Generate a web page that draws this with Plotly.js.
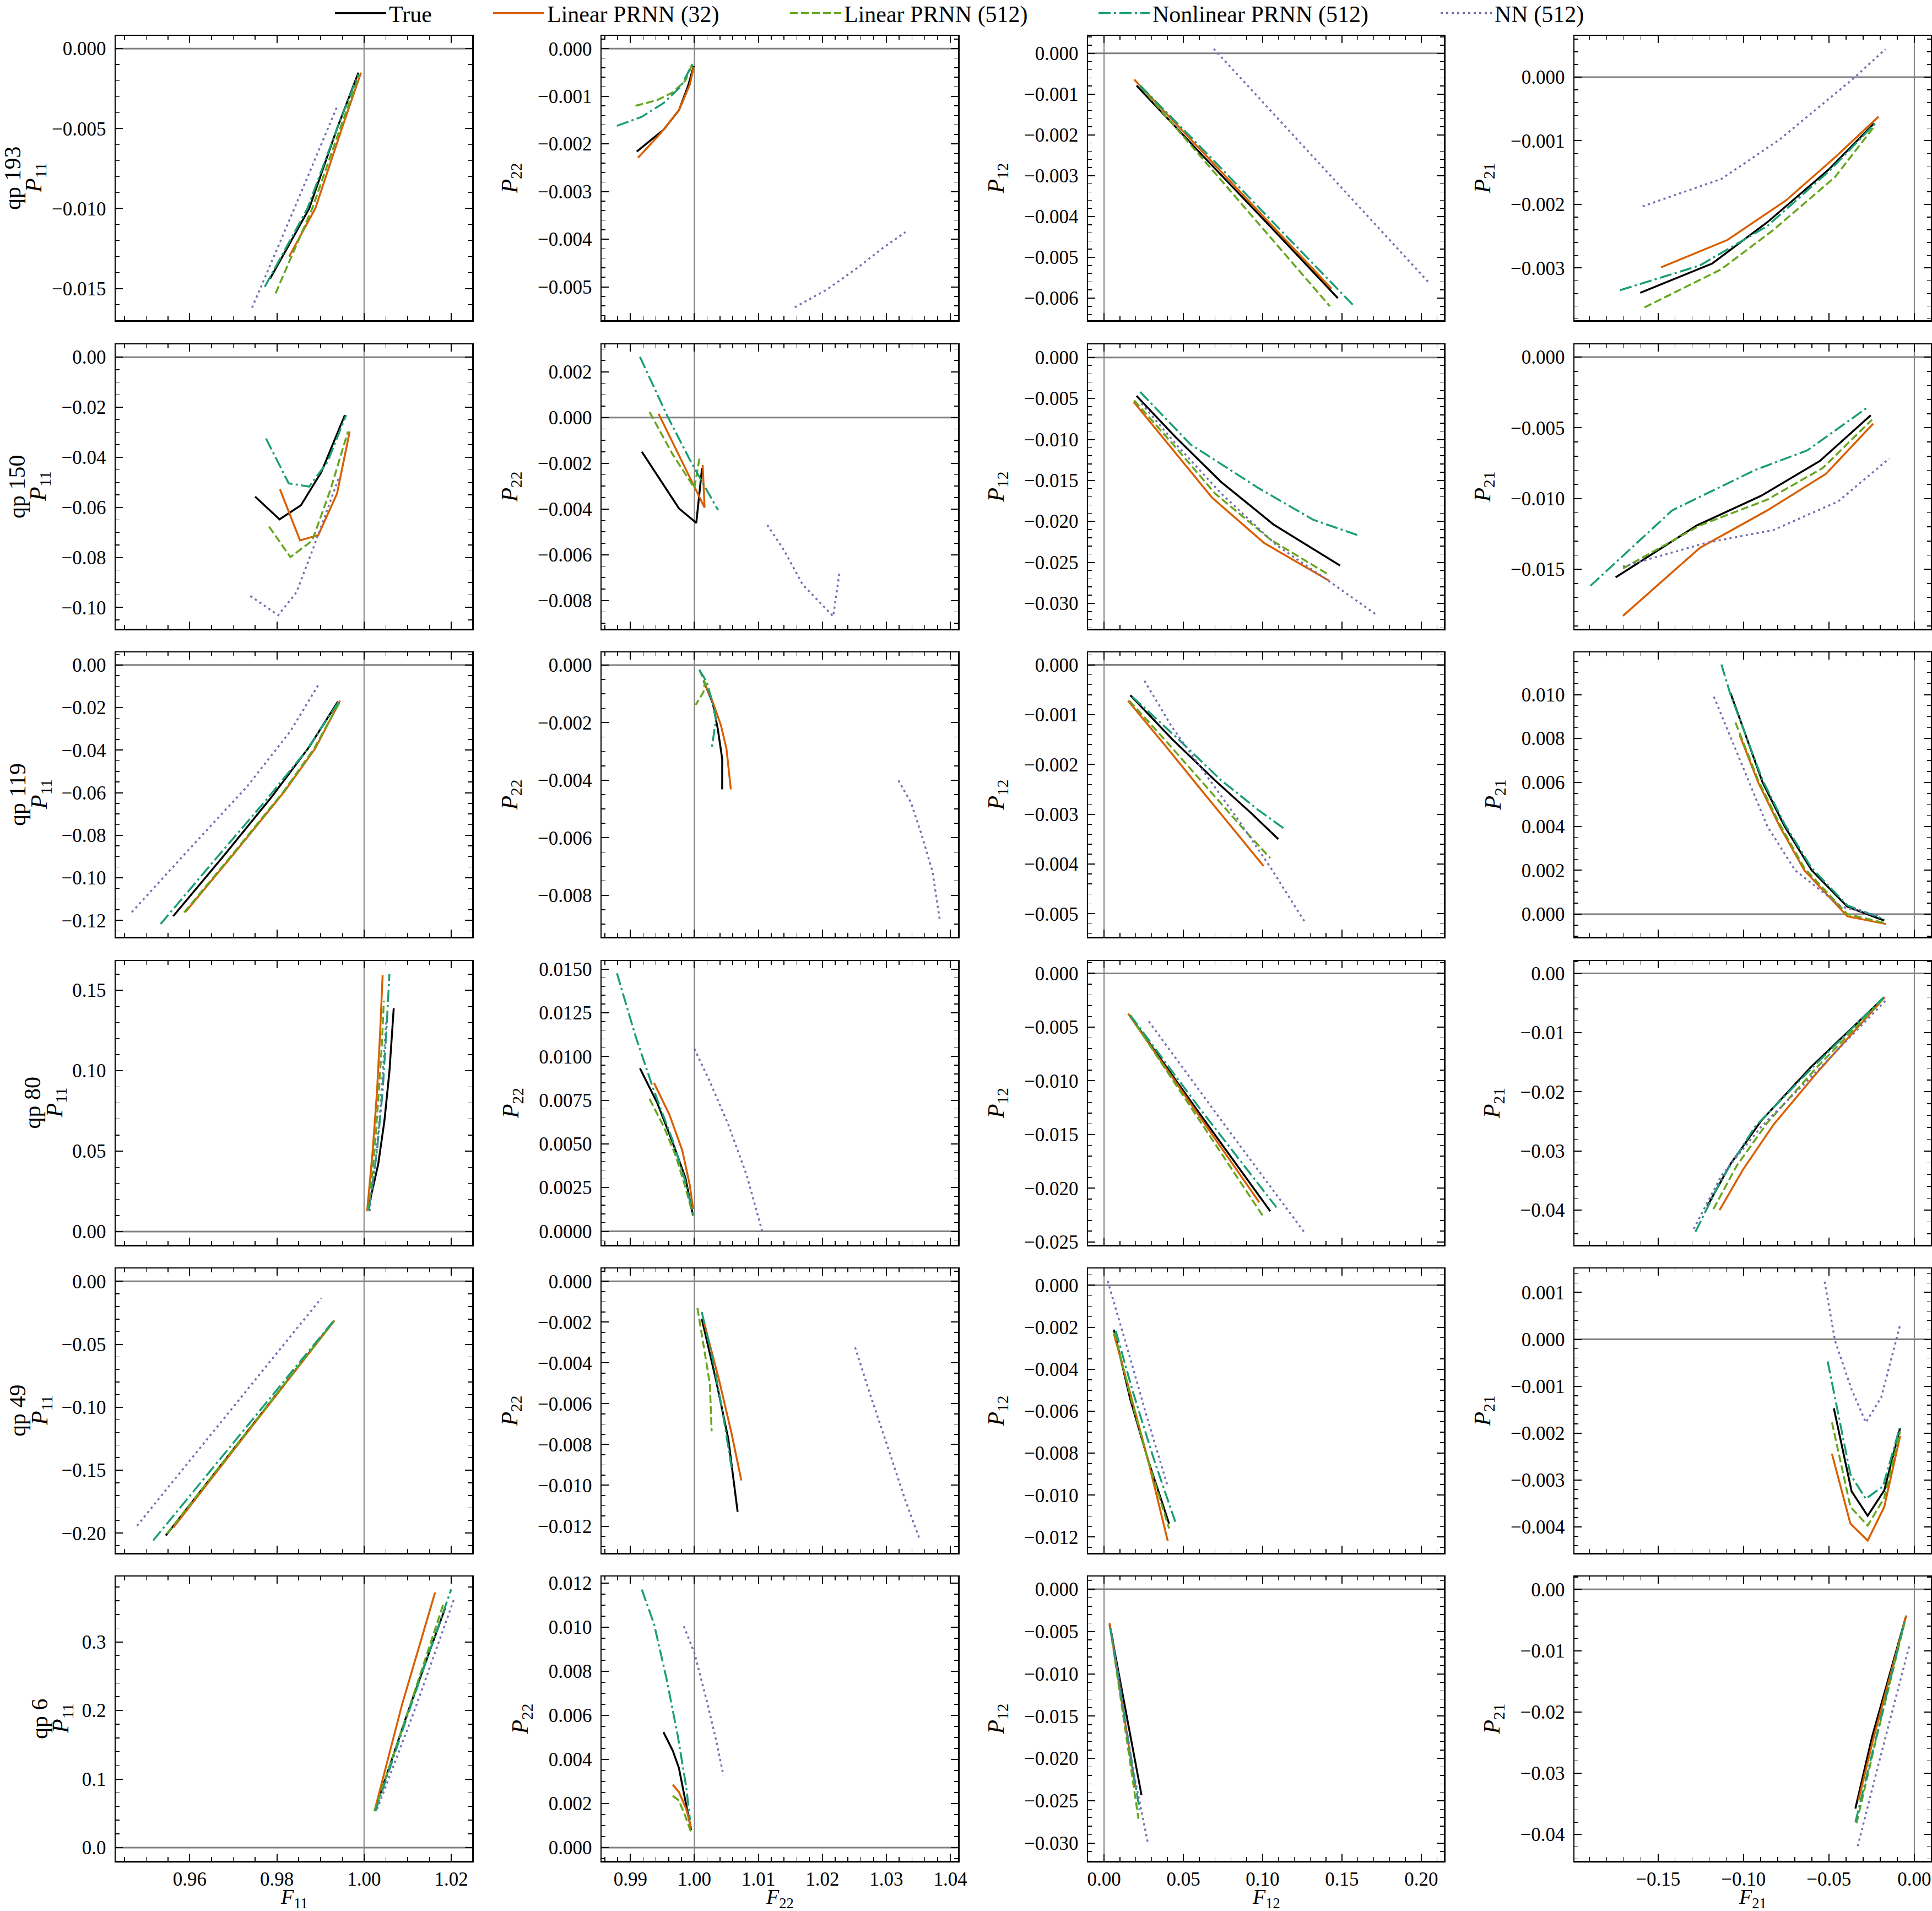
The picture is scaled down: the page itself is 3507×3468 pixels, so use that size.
<!DOCTYPE html>
<html><head><meta charset="utf-8">
<script src="https://cdn.plot.ly/plotly-3.0.1.min.js"></script>
<style>html,body{margin:0;padding:0;background:#fff}#chart{width:3507px;height:3468px}</style>
</head><body><div id="chart"></div>
<script>
// ---------- categories / labels ----------
const seriesNames = ['True', 'Linear PRNN (32)', 'Linear PRNN (512)', 'Nonlinear PRNN (512)', 'NN (512)'];
const qpLabels = ['qp 193', 'qp 150', 'qp 119', 'qp 80', 'qp 49', 'qp 6'];
const xTitles = ['<i>F</i><sub>11</sub>', '<i>F</i><sub>22</sub>', '<i>F</i><sub>12</sub>', '<i>F</i><sub>21</sub>'];
const yTitles = ['<i>P</i><sub>11</sub>', '<i>P</i><sub>22</sub>', '<i>P</i><sub>12</sub>', '<i>P</i><sub>21</sub>'];

// ---------- data (order: True, Lin32, Lin512, Nonlin512, NN) ----------
// qp 193
const qp193_F11 = [[0.9784,0.9874,0.9938,0.9987],[0.9828,0.9888,0.9949,0.9993],[0.9797,0.9881,0.9945,0.9990],[0.9772,0.9870,0.9938,0.9987],[0.9743,0.9840,0.9940]];
const qp193_P11 = [[-0.0144,-0.0100,-0.0050,-0.0015],[-0.0130,-0.0100,-0.0050,-0.0015],[-0.0153,-0.0100,-0.0050,-0.0016],[-0.0149,-0.0100,-0.0050,-0.0016],[-0.0162,-0.0100,-0.0035]];
const qp193_F22 = [[0.9910,0.9952,0.9976,0.9990,0.9999],[0.9912,0.9947,0.9976,0.9993,0.9999],[0.9908,0.9942,0.9966,0.9986,0.9998],[0.9879,0.9918,0.9952,0.9979,0.9997],[1.0157,1.0208,1.0256,1.0295,1.0330]];
const qp193_P22 = [[-0.00216,-0.00170,-0.00129,-0.00079,-0.00036],[-0.00229,-0.00178,-0.00129,-0.00075,-0.00038],[-0.00120,-0.00108,-0.00092,-0.00067,-0.00028],[-0.00162,-0.00143,-0.00114,-0.00079,-0.00032],[-0.00543,-0.00505,-0.00459,-0.00418,-0.00385]];
const qp193_F12 = [[0.0205,0.0620,0.1050,0.1474],[0.0190,0.0600,0.1020,0.1435],[0.0228,0.0620,0.1020,0.1424],[0.0228,0.0660,0.1110,0.1578],[0.0692,0.1150,0.1600,0.2046]];
const qp193_P12 = [[-0.00079,-0.00250,-0.00425,-0.00600],[-0.00064,-0.00233,-0.00406,-0.00577],[-0.00081,-0.00258,-0.00438,-0.00620],[-0.00079,-0.00250,-0.00432,-0.00620],[0.00011,-0.00182,-0.00372,-0.00561]];
const qp193_F21 = [[-0.1604,-0.1183,-0.0860,-0.0500,-0.0237],[-0.1482,-0.1094,-0.0752,-0.0464,-0.0209],[-0.1579,-0.1130,-0.0824,-0.0464,-0.0230],[-0.1723,-0.1255,-0.0860,-0.0500,-0.0230],[-0.1590,-0.1129,-0.0788,-0.0356,-0.0169]];
const qp193_P21 = [[-0.00339,-0.00293,-0.00228,-0.00145,-0.00073],[-0.00299,-0.00256,-0.00194,-0.00126,-0.00062],[-0.00362,-0.00302,-0.00240,-0.00157,-0.00076],[-0.00335,-0.00296,-0.00234,-0.00148,-0.00073],[-0.00203,-0.00160,-0.00098,-0.00002,0.00044]];
// qp 150
const qp150_F11 = [[0.9750,0.9806,0.9855,0.9902,0.9956],[0.9807,0.9853,0.9895,0.9938,0.9967],[0.9782,0.9831,0.9881,0.9923,0.9963],[0.9775,0.9827,0.9874,0.9916,0.9959],[0.9739,0.9803,0.9845,0.9888,0.9942]];
const qp150_P11 = [[-0.0557,-0.0648,-0.0592,-0.0459,-0.0231],[-0.0528,-0.0732,-0.0711,-0.0545,-0.0297],[-0.0677,-0.0799,-0.0733,-0.0529,-0.0297],[-0.0325,-0.0504,-0.0517,-0.0419,-0.0231],[-0.0954,-0.1031,-0.0939,-0.0742,-0.0482]];
const qp150_F22 = [[0.9918,0.9976,1.0003,1.0012],[0.9944,1.0016,1.0013],[0.9930,0.9966,1.0000,1.0008],[0.9915,0.9957,0.9995,1.0016,1.0037],[1.0114,1.0140,1.0169,1.0217,1.0227]];
const qp150_P22 = [[-0.00150,-0.00398,-0.00461,-0.00221],[0.00017,-0.00394,-0.00208],[0.00024,-0.00161,-0.00308,-0.00178],[0.00265,0.00011,-0.00196,-0.00300,-0.00405],[-0.00470,-0.00580,-0.00730,-0.00870,-0.00673]];
const qp150_F12 = [[0.0205,0.0449,0.0739,0.1068,0.1489],[0.0186,0.0429,0.0681,0.1010,0.1416],[0.0190,0.0449,0.0700,0.1048,0.1416],[0.0228,0.0545,0.0971,0.1319,0.1602],[0.0236,0.0468,0.0739,0.1087,0.1397,0.1725]];
const qp150_P12 = [[-0.00468,-0.00968,-0.0152,-0.02037,-0.0254],[-0.0054,-0.0111,-0.0171,-0.02265,-0.0272],[-0.00523,-0.0109,-0.0166,-0.0222,-0.0265],[-0.0042,-0.0106,-0.0159,-0.0198,-0.0217],[-0.0056,-0.0109,-0.0166,-0.0229,-0.0270,-0.0315]];
const qp150_F21 = [[-0.1748,-0.1273,-0.0896,-0.0554,-0.0255],[-0.1705,-0.1255,-0.0860,-0.0518,-0.0241],[-0.1705,-0.1255,-0.0860,-0.0536,-0.0248],[-0.1896,-0.1417,-0.0932,-0.0626,-0.0273],[-0.1705,-0.1219,-0.0824,-0.0446,-0.0147]];
const qp150_P21 = [[-0.01557,-0.0119,-0.0098,-0.00735,-0.00411],[-0.01829,-0.01348,-0.01083,-0.00826,-0.00471],[-0.01494,-0.0119,-0.01007,-0.00784,-0.00443],[-0.01617,-0.01083,-0.00798,-0.00659,-0.00355],[-0.0148,-0.01313,-0.01222,-0.0102,-0.00717]];
// qp 119
const qp119_F11 = [[0.9562,0.9675,0.9789,0.9874,0.9940],[0.9590,0.9704,0.9817,0.9888,0.9945],[0.9587,0.9700,0.9814,0.9885,0.9945],[0.9533,0.9647,0.9775,0.9867,0.9942],[0.9467,0.9590,0.9732,0.9831,0.9895]];
const qp119_P11 = [[-0.1180,-0.0904,-0.0617,-0.0385,-0.0172],[-0.1161,-0.0880,-0.0595,-0.0392,-0.0168],[-0.1163,-0.0885,-0.0598,-0.0394,-0.0172],[-0.1217,-0.0941,-0.0635,-0.0404,-0.0172],[-0.1161,-0.0885,-0.0570,-0.0311,-0.0094]];
const qp119_F22 = [[1.00145,1.0029,1.00367,1.00435,1.00435],[1.00145,1.0029,1.00415,1.00502,1.0057],[1.00077,1.00164,1.0014,1.0002],[1.00077,1.00193,1.0029,1.00338,1.0027],[1.03188,1.03382,1.03546,1.0372,1.03836]];
const qp119_P22 = [[-0.00055,-0.00134,-0.00223,-0.00326,-0.00432],[-0.00055,-0.00130,-0.00209,-0.00291,-0.00432],[-0.00016,-0.00060,-0.00095,-0.00138],[-0.00016,-0.00059,-0.00134,-0.00189,-0.00291],[-0.00401,-0.00476,-0.00586,-0.00716,-0.00887]];
const qp119_F12 = [[0.0166,0.0429,0.0700,0.0932,0.1099],[0.0151,0.0391,0.0623,0.0816,0.1006],[0.0159,0.0391,0.0662,0.0894,0.1048],[0.0178,0.0468,0.0739,0.0971,0.1145],[0.0255,0.0429,0.0623,0.0855,0.1048,0.1273]];
const qp119_P12 = [[-0.00061,-0.00149,-0.00232,-0.00299,-0.0035],[-0.00072,-0.00164,-0.00255,-0.0033,-0.00404],[-0.00072,-0.00153,-0.00251,-0.00335,-0.00388],[-0.00064,-0.00149,-0.00232,-0.00291,-0.00331],[-0.00032,-0.00125,-0.00212,-0.00315,-0.00406,-0.0052]];
const qp119_F21 = [[-0.1076,-0.0888,-0.0759,-0.0601,-0.0392,-0.0176],[-0.1022,-0.0914,-0.0788,-0.0644,-0.0392,-0.0165],[-0.1047,-0.0914,-0.0788,-0.0644,-0.0392,-0.0165],[-0.1129,-0.1076,-0.0888,-0.0759,-0.0601,-0.0392,-0.0176],[-0.1173,-0.0968,-0.0860,-0.0698,-0.0428,-0.0212]];
const qp119_P21 = [[0.01008,0.0060,0.0040,0.0020,0.00034,-0.00029],[0.00815,0.0060,0.0040,0.0020,-0.0001,-0.00045],[0.00873,0.0061,0.0041,0.0021,0.0000,-0.00042],[0.01137,0.0100,0.0061,0.0041,0.0021,0.0004,-0.00024],[0.0099,0.0060,0.0040,0.0020,0.00034,-0.00006]];
// qp 80
const qp80_F11 = [[1.00085,1.00326,1.00468,1.00582,1.00681],[1.00071,1.00199,1.00298,1.00369,1.00426],[1.00099,1.00241,1.00340,1.00411,1.00454],[1.00113,1.00298,1.00426,1.00511,1.00582],[1.00128,1.0027,1.00369,1.0044,1.00511]];
const qp80_P11 = [[0.0130,0.0421,0.0690,0.0995,0.1389],[0.0127,0.0506,0.0873,0.1240,0.1594],[0.0127,0.0506,0.0873,0.1178,0.1435],[0.0133,0.0506,0.0873,0.1240,0.1600],[0.0127,0.0445,0.0751,0.1056,0.1313]];
const qp80_F22 = [[0.9915,0.9942,0.9966,0.9986,0.9997],[0.9937,0.9961,0.9981,0.9993,0.9998],[0.9930,0.9952,0.9971,0.9987,0.9998],[0.9879,0.9908,0.9937,0.9966,0.9986,0.9998],[1.0000,1.0024,1.0053,1.0082,1.0106]];
const qp80_P22 = [[0.00932,0.00734,0.00509,0.00307,0.00105],[0.00849,0.00667,0.00464,0.00262,0.00127],[0.00757,0.0060,0.00431,0.0024,0.00088],[0.01476,0.01117,0.00802,0.00521,0.00285,0.00093],[0.01044,0.00858,0.00611,0.00318,0.0000]];
const qp80_F12 = [[0.0159,0.0600,0.1048],[0.0151,0.0565,0.0979],[0.0166,0.0590,0.1010],[0.0166,0.0620,0.1087],[0.0282,0.0770,0.1261]];
const qp80_P12 = [[-0.00386,-0.0130,-0.02214],[-0.00374,-0.0125,-0.02132],[-0.00397,-0.0134,-0.02278],[-0.00390,-0.0129,-0.02178],[-0.00447,-0.0143,-0.02407]];
const qp80_F21 = [[-0.1212,-0.1076,-0.0896,-0.0608,-0.0176],[-0.1140,-0.1004,-0.0824,-0.0554,-0.0173],[-0.1176,-0.1040,-0.0860,-0.0572,-0.0176],[-0.1281,-0.1130,-0.0932,-0.0608,-0.0183],[-0.1291,-0.1130,-0.0896,-0.0572,-0.0169]];
const qp80_P21 = [[-0.03934,-0.0322,-0.02488,-0.01591,-0.00402],[-0.0400,-0.0332,-0.02555,-0.01624,-0.00402],[-0.03983,-0.03252,-0.02522,-0.01591,-0.00412],[-0.04365,-0.03485,-0.02588,-0.01625,-0.00412],[-0.04316,-0.03419,-0.02588,-0.01658,-0.00462]];
// qp 49
const qp49_F11 = [[0.9545,0.9738,0.9931],[0.9562,0.9747,0.9932],[0.9548,0.9740,0.9931],[0.9516,0.9722,0.9928],[0.9479,0.9691,0.9902]];
const qp49_P11 = [[-0.2019,-0.1167,-0.0314],[-0.1956,-0.1134,-0.0311],[-0.2003,-0.1158,-0.0314],[-0.2058,-0.1190,-0.0322],[-0.1941,-0.1038,-0.0134]];
const qp49_F22 = [[1.00116,1.00338,1.00531,1.00676],[1.00145,1.00386,1.0058,1.00734],[1.00048,1.00145,1.00242,1.0027],[1.00116,1.0029,1.00435,1.00589],[1.02512,1.02754,1.03043,1.03285,1.03527]];
const qp49_P22 = [[-0.00184,-0.00484,-0.00773,-0.0113],[-0.00194,-0.00484,-0.00744,-0.00976],[-0.00131,-0.0031,-0.00503,-0.00735],[-0.00151,-0.00387,-0.00628,-0.00928],[-0.00324,-0.00561,-0.00832,-0.01063,-0.0127]];
const qp49_F12 = [[0.0062,0.0166,0.0275,0.0410],[0.0062,0.0159,0.0275,0.0402],[0.0066,0.0166,0.0280,0.0410],[0.0074,0.0178,0.0313,0.0449],[0.0023,0.0139,0.0275,0.0398]];
const qp49_P12 = [[-0.00212,-0.00545,-0.00826,-0.01136],[-0.00231,-0.00498,-0.00826,-0.01219],[-0.00226,-0.00530,-0.00840,-0.01159],[-0.00217,-0.00498,-0.00826,-0.01127],[0.0002,-0.0028,-0.0064,-0.0095]];
const qp49_F21 = [[-0.0471,-0.0367,-0.0273,-0.0176,-0.0083],[-0.0482,-0.0374,-0.0273,-0.0176,-0.0083],[-0.0482,-0.0374,-0.0273,-0.0176,-0.0083],[-0.0507,-0.0374,-0.0284,-0.0183,-0.0086],[-0.0525,-0.0464,-0.0367,-0.0284,-0.0194,-0.0083]];
const qp49_P21 = [[-0.00147,-0.00324,-0.00376,-0.00322,-0.00189],[-0.00244,-0.00393,-0.00429,-0.00357,-0.00206],[-0.00177,-0.00357,-0.00397,-0.00338,-0.00196],[-0.00047,-0.00288,-0.0034,-0.00313,-0.00189],[0.00123,-0.00003,-0.00107,-0.00177,-0.00124,0.00031]];
// qp 6
const qp6_F11 = [[1.0024,1.0101,1.0186],[1.0024,1.0087,1.0163],[1.0024,1.0101,1.0183],[1.0026,1.0108,1.0200],[1.0030,1.0115,1.0207]];
const qp6_P11 = [[0.0535,0.1986,0.3491],[0.0535,0.2082,0.3719],[0.0535,0.1986,0.3570],[0.0529,0.2082,0.3766],[0.0561,0.1986,0.3633]];
const qp6_F22 = [[0.99517,0.99662,0.99758,0.99855,0.99932,0.9995],[0.99662,0.99758,0.99874,0.99952],[0.99662,0.99758,0.99855,0.99952],[0.99179,0.99372,0.99565,0.99739,0.99874,0.99932],[0.99836,1.0000,1.00193,1.00338,1.00454]];
const qp6_P22 = [[0.00524,0.0044,0.00362,0.00224,0.0011,0.0008],[0.00285,0.00253,0.00174,0.00086],[0.00235,0.00214,0.00145,0.00066],[0.01171,0.01012,0.00766,0.0051,0.00273,0.00125],[0.01004,0.00884,0.00667,0.0049,0.00327]];
const qp6_F12 = [[0.0035,0.0236],[0.0035,0.0197],[0.0039,0.0217],[0.0039,0.0224],[0.0050,0.0178,0.0279]];
const qp6_P12 = [[-0.00416,-0.02432],[-0.00400,-0.02342],[-0.00455,-0.02714],[-0.00455,-0.02611],[-0.00519,-0.02085,-0.03022]];
const qp6_F21 = [[-0.0345,-0.0248,-0.0050],[-0.0327,-0.0241,-0.0047],[-0.0338,-0.0230,-0.0054],[-0.0345,-0.0230,-0.0054],[-0.0331,-0.0212,-0.0025]];
const qp6_P21 = [[-0.03578,-0.02416,-0.0045],[-0.03444,-0.02452,-0.00425],[-0.03816,-0.02522,-0.00506],[-0.0380,-0.02487,-0.00488],[-0.04188,-0.02877,-0.00875]];

// ---------- layout constants ----------
const panels = [
  [[qp193_F11,qp193_P11],[qp193_F22,qp193_P22],[qp193_F12,qp193_P12],[qp193_F21,qp193_P21]],
  [[qp150_F11,qp150_P11],[qp150_F22,qp150_P22],[qp150_F12,qp150_P12],[qp150_F21,qp150_P21]],
  [[qp119_F11,qp119_P11],[qp119_F22,qp119_P22],[qp119_F12,qp119_P12],[qp119_F21,qp119_P21]],
  [[qp80_F11,qp80_P11],[qp80_F22,qp80_P22],[qp80_F12,qp80_P12],[qp80_F21,qp80_P21]],
  [[qp49_F11,qp49_P11],[qp49_F22,qp49_P22],[qp49_F12,qp49_P12],[qp49_F21,qp49_P21]],
  [[qp6_F11,qp6_P11],[qp6_F22,qp6_P22],[qp6_F12,qp6_P12],[qp6_F21,qp6_P21]]
];
const colors = ['#000000', '#d95f02', '#66a61e', '#1b9e77', '#7570b3'];
const dashes = ['solid', 'solid', '14px,6px', '22px,6px,4px,6px', '4px,6px'];
const W = 3507, H = 3468;
const colPx = [[210, 857], [1092, 1739], [1975, 2621], [2858, 3505]];
const rowPx = [[65, 581], [625, 1141], [1184, 1700], [1744, 2259], [2302, 2818], [2861, 3377]];
const legendPx = [603, 890, 1429, 1989, 2610];
const qpLabelPx = [23, 31, 32, 58, 32, 72];    // x centre of "qp" line, col 1
const p11LabelPx = [64, 72, 74, 101, 75, 113]; // x centre of P11 line, col 1
const xRanges = [[0.9430, 1.0248], [0.9855, 1.0412], [-0.0101, 0.2143], [-0.1989, 0.0097]];
const xDtick = [0.02, 0.01, 0.05, 0.05];
const xMinor = [0.005, 0.002, 0.01, 0.01];
const vLine = [1, 1, 0, 0];
const yRanges = [
  [[-0.01698, 0.0008], [-0.0057, 0.00027], [-0.00654, 0.00043], [-0.00382, 0.00065]],
  [[-0.1085, 0.0051], [-0.00924, 0.0032], [-0.0331, 0.0016], [-0.0192, 0.0009]],
  [[-0.1277, 0.0059], [-0.00944, 0.00044], [-0.00546, 0.00025], [-0.00103, 0.01192]],
  [[-0.0082, 0.1682], [-0.00077, 0.01546], [-0.02527, 0.00115], [-0.04585, 0.0021]],
  [[-0.2156, 0.0102], [-0.01331, 0.00063], [-0.01275, 0.0008], [-0.00455, 0.00151]],
  [[-0.0193, 0.3953], [-0.0006, 0.0123], [-0.0321, 0.0015], [-0.0443, 0.0021]]
];
const yDtick = [
  [0.005, 0.001, 0.001, 0.001],
  [0.02, 0.002, 0.005, 0.005],
  [0.02, 0.002, 0.001, 0.002],
  [0.05, 0.0025, 0.005, 0.01],
  [0.05, 0.002, 0.002, 0.001],
  [0.1, 0.002, 0.005, 0.01]
];
const yMinor = [
  [0.001, 0.0002, 0.0002, 0.0002],
  [0.005, 0.0005, 0.001, 0.001],
  [0.005, 0.0005, 0.0002, 0.0005],
  [0.01, 0.0005, 0.001, 0.002],
  [0.01, 0.0005, 0.0005, 0.0002],
  [0.02, 0.0005, 0.001, 0.002]
];
const yFmt = [
  ['.3f', '.3f', '.3f', '.3f'],
  ['.2f', '.3f', '.3f', '.3f'],
  ['.2f', '.3f', '.3f', '.3f'],
  ['.2f', '.4f', '.3f', '.2f'],
  ['.2f', '.3f', '.3f', '.3f'],
  ['.1f', '.3f', '.3f', '.2f']
];

const FONT = '"Liberation Serif", "DejaVu Serif", serif';
const traces = [];
const layout = {
  width: W, height: H,
  margin: {l: 0, r: 0, t: 0, b: 0, autoexpand: false},
  paper_bgcolor: '#ffffff', plot_bgcolor: '#ffffff',
  font: {family: FONT, size: 35, color: '#000'},
  showlegend: true,
  shapes: [], annotations: []
};
const legendIds = ['legend', 'legend2', 'legend3', 'legend4', 'legend5'];
legendIds.forEach((id, s) => {
  layout[id] = {orientation: 'h', x: legendPx[s] / W, y: 1 - 24 / H, xanchor: 'left', yanchor: 'middle',
                font: {family: FONT, size: 42, color: '#000'}, itemwidth: 93,
                bgcolor: 'rgba(0,0,0,0)', borderwidth: 0};
});

for (let r = 0; r < 6; r++) {
  for (let c = 0; c < 4; c++) {
    const idx = r * 4 + c + 1;
    const sfx = idx === 1 ? '' : String(idx);
    const xid = 'x' + sfx, yid = 'y' + sfx;
    const [fx, py] = panels[r][c];
    for (let s = 0; s < 5; s++) {
      traces.push({
        type: 'scatter', mode: 'lines', x: fx[s], y: py[s],
        xaxis: xid, yaxis: yid, name: seriesNames[s], legend: legendIds[s],
        showlegend: idx === 1, hoverinfo: 'skip',
        line: {color: colors[s], width: 3.5, dash: dashes[s]}
      });
    }
    const common = {
      ticks: 'inside', ticklen: 13, tickwidth: 2, tickcolor: '#000',
      mirror: 'allticks', showline: true, linecolor: '#000', linewidth: 2.5,
      showgrid: false, zeroline: false, tick0: 0,
      tickfont: {family: FONT, size: 35, color: '#000'}
    };
    layout['xaxis' + sfx] = Object.assign({}, common, {
      domain: [colPx[c][0] / W, colPx[c][1] / W],
      anchor: yid, range: xRanges[c], dtick: xDtick[c], tickformat: '.2f',
      showticklabels: r === 5, ticklabelstandoff: 0,
      minor: {ticks: 'inside', ticklen: 7, tickwidth: 1.5, tickcolor: '#000', dtick: xMinor[c], tick0: 0, showgrid: false}
    });
    const ya = Object.assign({}, common, {
      domain: [1 - rowPx[r][1] / H, 1 - rowPx[r][0] / H],
      anchor: xid, range: yRanges[r][c], dtick: yDtick[r][c], tickformat: yFmt[r][c],
      ticklabelstandoff: 8,
      minor: {ticks: 'inside', ticklen: 7, tickwidth: 1.5, tickcolor: '#000', dtick: yMinor[r][c], tick0: 0, showgrid: false}
    });
    if (c > 0) ya.title = {text: yTitles[c], font: {family: FONT, size: 42}, standoff: 24};
    layout['yaxis' + sfx] = ya;
    const yMid = 1 - (rowPx[r][0] + rowPx[r][1]) / 2 / H;
    if (c === 0) {
      layout.annotations.push({
        text: qpLabels[r], xref: 'paper', yref: 'paper', x: qpLabelPx[r] / W, y: yMid,
        xanchor: 'center', yanchor: 'middle', textangle: -90, showarrow: false,
        font: {family: FONT, size: 42, color: '#000'}
      });
      layout.annotations.push({
        text: yTitles[0], xref: 'paper', yref: 'paper', x: p11LabelPx[r] / W, y: yMid,
        xanchor: 'center', yanchor: 'middle', textangle: -90, showarrow: false,
        font: {family: FONT, size: 42, color: '#000'}
      });
    }
    if (r === 5) {
      layout.annotations.push({
        text: xTitles[c], xref: 'paper', yref: 'paper', x: (colPx[c][0] + colPx[c][1]) / 2 / W, y: 1 - 3445 / H,
        xanchor: 'center', yanchor: 'middle', showarrow: false,
        font: {family: FONT, size: 38, color: '#000'}
      });
    }
    layout.shapes.push({type: 'line', layer: 'below', xref: xid + ' domain', x0: 0, x1: 1, yref: yid, y0: 0, y1: 0,
                        line: {color: '#808080', width: 3}});
    layout.shapes.push({type: 'line', layer: 'below', xref: xid, x0: vLine[c], x1: vLine[c], yref: yid + ' domain', y0: 0, y1: 1,
                        line: {color: '#808080', width: 2}});
  }
}

Plotly.newPlot('chart', traces, layout, {staticPlot: true, displayModeBar: false});
</script>
</body></html>
